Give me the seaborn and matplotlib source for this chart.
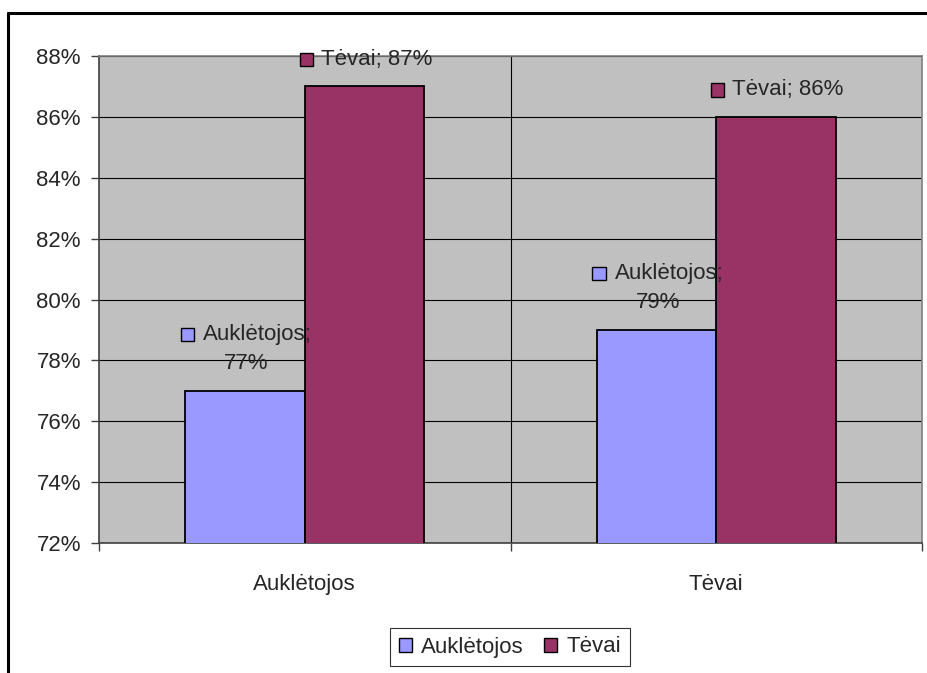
import pandas as pd
import matplotlib.pyplot as plt
import seaborn as sns
from matplotlib.lines import Line2D
from matplotlib.patches import Patch, Rectangle
from matplotlib.ticker import PercentFormatter, FixedLocator
from matplotlib.offsetbox import AnnotationBbox, DrawingArea, TextArea, HPacker, VPacker

# === Data ===
categories = ["Auklėtojos", "Tėvai"]
series = ["Auklėtojos", "Tėvai"]
auklėtojos_vals = [0.77, 0.79]
tevai_vals = [0.87, 0.86]
colors = ["#9999FF", "#993366"]

df = pd.DataFrame({
    "group": categories * 2,
    "series": [series[0]] * 2 + [series[1]] * 2,
    "value": auklėtojos_vals + tevai_vals,
})

# === Style ===
sns.set_style("white")
plt.rcParams["font.family"] = ["Liberation Sans", "DejaVu Sans"]
FS = 16

fig = plt.figure(figsize=(9.27, 6.73), dpi=100)
ax = fig.add_axes([99 / 927, 1 - 543 / 673, (922 - 99) / 927, (543 - 56) / 673])
ax.set_facecolor("#C0C0C0")

sns.barplot(data=df, x="group", y="value", hue="series", palette=colors,
            width=0.58, edgecolor="black", linewidth=1.3, saturation=1,
            legend=False, ax=ax, zorder=3)

ax.set_ylim(0.72, 0.88)
ax.set_xlim(-0.5, 1.5)
ax.yaxis.set_major_formatter(PercentFormatter(1.0, decimals=0))
ax.set_yticks([0.72 + 0.02 * i for i in range(9)])
ax.yaxis.grid(True, color="black", linewidth=0.8, zorder=1)
ax.axvline(0.5, color="black", linewidth=0.8, zorder=1)
ax.set_axisbelow(True)

ax.set_xlabel("")
ax.set_ylabel("")
ax.tick_params(axis="x", which="major", length=0, labelsize=FS, pad=22)
ax.xaxis.set_minor_locator(FixedLocator([-0.5, 0.5, 1.5]))
ax.tick_params(axis="x", which="minor", length=6, direction="out", color="#404040", width=1)
ax.tick_params(axis="y", length=6, direction="out", color="#404040", width=1, labelsize=FS, pad=7)
ax.tick_params(bottom=True, left=True, which="both")

for side in ["left", "bottom"]:
    ax.spines[side].set_color("#404040")
    ax.spines[side].set_linewidth(1.2)
for side in ["top", "right"]:
    ax.spines[side].set_color("#808080")
    ax.spines[side].set_linewidth(1.2)


# === Data labels with legend key ===
def key_box(color):
    da = DrawingArea(10, 10, 0, 0)
    da.add_artist(Rectangle((0, 0), 9.5, 9.5, facecolor=color, edgecolor="black", linewidth=1))
    return da


for bar_group, name, color in zip(ax.containers, series, colors):
    for rect, val in zip(bar_group, df[df["series"] == name]["value"]):
        cx = rect.get_x() + rect.get_width() / 2
        top = rect.get_height()
        pct = f"{round(val * 100):d}%"
        if name == "Tėvai":
            box = HPacker(children=[key_box(color),
                                    TextArea(f"{name}; {pct}", textprops=dict(size=FS))],
                          align="center", pad=0, sep=5)
        else:
            row = HPacker(children=[key_box(color),
                                    TextArea(f"{name};", textprops=dict(size=FS))],
                          align="center", pad=0, sep=6)
            box = VPacker(children=[row, TextArea(pct, textprops=dict(size=FS))],
                          align="center", pad=0, sep=6)
        ab = AnnotationBbox(box, (cx, top), xybox=(1, 12), xycoords="data",
                            boxcoords="offset points", box_alignment=(0.5, 0),
                            frameon=False, annotation_clip=False, zorder=5)
        ax.add_artist(ab)

# === Legend ===
handles = [Patch(facecolor=c, edgecolor="black", linewidth=1) for c in colors]
leg = fig.legend(handles, series, loc="center", bbox_to_anchor=(510 / 927, 1 - 647 / 673),
                 ncol=2, fontsize=FS, frameon=True, fancybox=False, edgecolor="black",
                 handlelength=0.6, handleheight=0.6, handletextpad=0.4, columnspacing=0.9,
                 borderpad=0.4, borderaxespad=0)
leg.get_frame().set_linewidth(0.8)

# === Outer chart frame ===
fig.add_artist(Line2D([8 / 927, 8 / 927], [0, 1 - 13 / 673], color="black", linewidth=2.2,
                      transform=fig.transFigure))
fig.add_artist(Line2D([8 / 927, 1], [1 - 13 / 673, 1 - 13 / 673], color="black", linewidth=2.2,
                      transform=fig.transFigure))

fig.savefig("out.png", dpi=100)
